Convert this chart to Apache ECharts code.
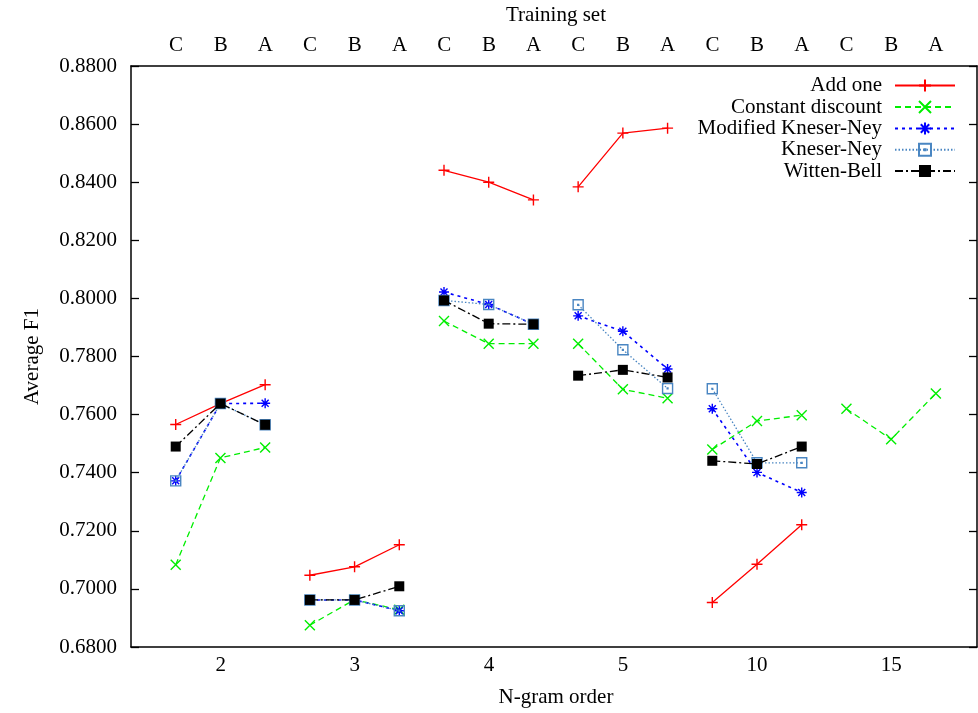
<!DOCTYPE html>
<html><head><meta charset="utf-8">
<script src="https://cdn.jsdelivr.net/npm/echarts@6/dist/echarts.min.js"></script>
<style>html,body{margin:0;padding:0;background:#fff}#c{width:978px;height:713px}</style>
</head><body><div id="c"></div>
<script>
// ---- data ----
const groups = ['2', '3', '4', '5', '10', '15'];          // N-gram order
const trainingSets = ['C', 'B', 'A'];                      // Training set (per group)
const yTicks = [0.68, 0.88, 0.02];                         // min, max, step

const addOne = [0.7566, 0.7638, 0.7703,  0.7047, 0.7076, 0.7152,  0.8441, 0.8400, 0.8339,
                0.8384, 0.8569, 0.8586,  0.6953, 0.7085, 0.7221,  null, null, null];
const constantDiscount = [0.7083, 0.7451, 0.7487,  0.6875, 0.6963, 0.6928,  0.7922, 0.7844, 0.7844,
                0.7844, 0.7687, 0.7656,  0.7480, 0.7578, 0.7598,  0.7620, 0.7515, 0.7673];
const modifiedKN = [0.7372, 0.7638, 0.7639,  0.6962, 0.6962, 0.6925,  0.8022, 0.7979, 0.7911,
                0.7940, 0.7887, 0.7757,  0.7620, 0.7401, 0.7332,  null, null, null];
const kneserNey = [0.7372, 0.7638, 0.7565,  0.6962, 0.6962, 0.6925,  0.7993, 0.7979, 0.7911,
                0.7978, 0.7823, 0.7690,  0.7689, 0.7434, 0.7434,  null, null, null];
const wittenBell = [0.7490, 0.7638, 0.7565,  0.6962, 0.6962, 0.7009,  0.7993, 0.7913, 0.7911,
                0.7734, 0.7754, 0.7728,  0.7441, 0.7430, 0.7490,  null, null, null];

const seriesNames = ['Add one', 'Constant discount', 'Modified Kneser-Ney', 'Kneser-Ney', 'Witten-Bell'];
const seriesValues = [addOne, constantDiscount, modifiedKN, kneserNey, wittenBell];

// ---- build ----
const FONT = 'Liberation Serif';
const FS = 21;
const topLabels = [];
groups.forEach(() => trainingSets.forEach(t => topLabels.push(t)));

function toPoints(vals) {
  const out = [];
  groups.forEach((g, gi) => {
    trainingSets.forEach((t, ti) => {
      const i = gi * trainingSets.length + ti;
      out.push([i, vals[i] == null ? null : vals[i]]);
    });
    out.push([gi * trainingSets.length + trainingSets.length - 0.5, null]); // break between groups
  });
  return out;
}

const styles = [
  { color: '#ff0000', symbol: 'path://M0,5L10,5M5,0L5,10', size: 11, line: 'solid', fill: '#ff0000', lw: 1.3 },
  { color: '#00ee00', symbol: 'path://M0,0L10,10M10,0L0,10', size: 10, line: [6, 4], fill: '#00ee00', lw: 1.3 },
  { color: '#0000ff', symbol: 'path://M0,5L10,5M5,0L5,10M1.5,1.5L8.5,8.5M8.5,1.5L1.5,8.5', size: 10, line: [3, 4], fill: '#0000ff', lw: 1.6 },
  { color: '#4a86c2', symbol: 'path://M0,0L10,0L10,10L0,10ZM4.6,4.6L5.4,4.6L5.4,5.4L4.6,5.4Z', size: 10, line: [1.5, 2], fill: 'rgba(0,0,0,0)', lw: 1.3 },
  { color: '#000000', symbol: 'rect', size: 10, line: [8, 3, 2, 3], fill: '#000000', lw: 1.3 }
];

const series = seriesNames.map((name, i) => ({
  name, type: 'line', xAxisIndex: 0, yAxisIndex: 0,
  data: toPoints(seriesValues[i]),
  symbol: styles[i].symbol, symbolSize: styles[i].size, symbolKeepAspect: true,
  showAllSymbol: true, connectNulls: false,
  itemStyle: { color: styles[i].fill, borderColor: styles[i].color, borderWidth: i === 4 ? 0 : 1.4 },
  lineStyle: { color: styles[i].color, width: styles[i].lw, type: styles[i].line },
  emphasis: { disabled: true },
  z: 2 + i
}));

const legendRows = [85.5, 107, 128.5, 149.8, 171];
const legends = seriesNames.map((name, i) => ({
  data: [name], right: 22, top: legendRows[i] - 10.5, orient: 'vertical', align: 'right',
  itemWidth: 60, itemHeight: 15, padding: 0, selectedMode: false,
  textStyle: { fontFamily: FONT, fontSize: FS, color: '#000', padding: [0, 8, 0, 0] }
}));

const axisLineStyle = { onZero: false, lineStyle: { color: '#000', width: 1.5 } };
const lbl = { fontFamily: FONT, fontSize: FS, color: '#000' };
const tickStyle = { color: '#000', width: 1.3 };

const chart = echarts.init(document.getElementById('c'), null, { renderer: 'canvas' });
chart.setOption({
  animation: false,
  backgroundColor: '#fff',
  grid: [
    { left: 131, right: 1, top: 66, bottom: 66 },
    { left: 153.65, right: 19.75, top: 66, bottom: 66 }
  ],
  legend: legends,
  xAxis: [
    { type: 'value', gridIndex: 0, position: 'bottom', min: -1, max: 17.92,
      axisLine: axisLineStyle, axisTick: { show: false }, axisLabel: { show: false }, splitLine: { show: false } },
    { type: 'value', gridIndex: 0, position: 'top', min: -1, max: 17.92,
      axisLine: axisLineStyle, axisTick: { show: false }, axisLabel: { show: false }, splitLine: { show: false } },
    { type: 'category', gridIndex: 1, position: 'bottom', data: groups, boundaryGap: true,
      name: 'N-gram order', nameLocation: 'middle', nameGap: 44, nameTextStyle: lbl,
      axisLine: { show: false, onZero: false }, axisTick: { inside: true, length: 8, lineStyle: tickStyle },
      axisLabel: Object.assign({ margin: 12 }, lbl), splitLine: { show: false } },
    { type: 'category', gridIndex: 1, position: 'top', data: topLabels, boundaryGap: true,
      name: 'Training set', nameLocation: 'middle', nameGap: 42, nameTextStyle: lbl,
      axisLine: { show: false, onZero: false }, axisTick: { inside: true, alignWithLabel: true, length: 8, lineStyle: tickStyle },
      axisLabel: Object.assign({ margin: 12, interval: 0 }, lbl), splitLine: { show: false } }
  ],
  yAxis: [
    { type: 'value', gridIndex: 0, position: 'left', min: yTicks[0], max: yTicks[1], interval: yTicks[2],
      name: 'Average F1', nameLocation: 'middle', nameGap: 88, nameTextStyle: lbl,
      axisLine: axisLineStyle, axisTick: { inside: true, length: 8, lineStyle: tickStyle },
      axisLabel: Object.assign({ margin: 14, formatter: v => v.toFixed(4) }, lbl), splitLine: { show: false } },
    { type: 'value', gridIndex: 0, position: 'right', min: yTicks[0], max: yTicks[1], interval: yTicks[2],
      axisLine: axisLineStyle, axisTick: { inside: true, length: 8, lineStyle: tickStyle },
      axisLabel: { show: false }, splitLine: { show: false } },
    { type: 'value', gridIndex: 1, show: false }
  ],
  series
});
</script>
</body></html>
